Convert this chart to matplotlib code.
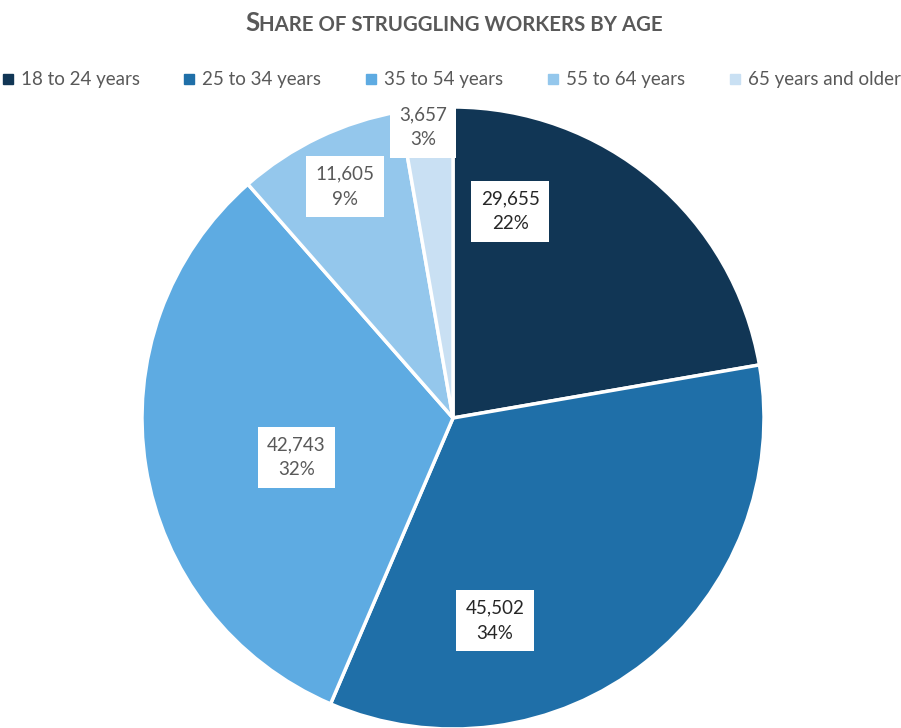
import matplotlib
matplotlib.use("Agg")
import matplotlib.pyplot as plt
from matplotlib.lines import Line2D

# data
ages = ["18 to 24 years", "25 to 34 years", "35 to 54 years", "55 to 64 years", "65 years and older"]
workers = [29655, 45502, 42743, 11605, 3657]
colors = ["#113655", "#1f6fa8", "#5eabe2", "#94c7ec", "#c9e0f3"]
label_colors = ["#262626", "#262626", "#595959", "#595959", "#595959"]
# where Excel put each label box (pie radius = 1)
label_pos = [(0.184, 0.665), (0.135, -0.652), (-0.503, -0.126), (-0.348, 0.745), (-0.097, 0.935)]

plt.rcParams['font.family'] = ['Lato', 'DejaVu Sans']

W, H = 901, 728
fig = plt.figure(figsize=(W/100, H/100), dpi=100)

# pie: center (453,418) px, radius 311 px
cx, cy, r = 453, 418, 311
ax = fig.add_axes([(cx-r)/W, (H-cy-r)/H, 2*r/W, 2*r/H])
ax.pie(workers, colors=colors, startangle=90, counterclock=False, radius=1,
       wedgeprops=dict(edgecolor="white", linewidth=2.5))
ax.set_xlim(-1, 1)
ax.set_ylim(-1, 1)
ax.set_aspect("equal")
ax.axis("off")

total = float(sum(workers))
for v, (lx, ly), c in zip(workers, label_pos, label_colors):
    ax.text(lx, ly, "{:,}\n{:.0f}%".format(v, 100*v/total), ha="center", va="center",
            fontsize=13.5, color=c, linespacing=1.6,
            bbox=dict(boxstyle="square,pad=0.5", fc="white", ec="none"))

# title in small caps
t1 = fig.text(245/W, 1-31/H, "S", fontsize=18.5, fontweight="bold", color="#595959", va="baseline")
fig.canvas.draw()
bb = t1.get_window_extent()
fig.text(bb.x1/W, 1-31/H, "HARE OF STRUGGLING WORKERS BY AGE", fontsize=14.7,
         fontweight="bold", color="#595959", va="baseline")

handles = [Line2D([], [], marker="s", linestyle="none", markersize=7, color=c) for c in colors]
fig.legend(handles, ages, loc="center", bbox_to_anchor=(0.5, 1-80/H), ncol=5, frameon=False,
           fontsize=13.5, labelcolor="#595959", handletextpad=0.3, columnspacing=2.25,
           handlelength=0.8, borderpad=0, borderaxespad=0)

fig.savefig("out.png", dpi=100)
